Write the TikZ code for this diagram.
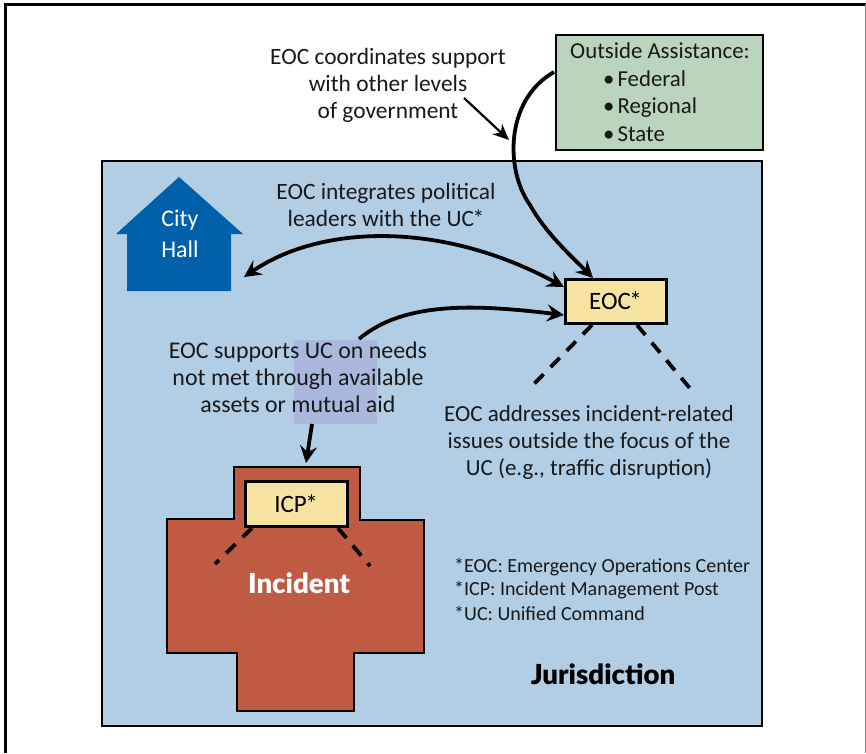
\documentclass[tikz,border=0pt]{standalone}
\usepackage{fontspec}
\setmainfont{Carlito}
\newfontfamily\heavyfont{Lato Black}
\usetikzlibrary{arrows.meta}
\definecolor{jurblue}{HTML}{B2CEE4}
\definecolor{outgreen}{HTML}{BBD4BE}
\definecolor{boxyellow}{HTML}{F7E3A1}
\definecolor{incred}{HTML}{BF5A43}
\definecolor{cityblue}{HTML}{0060A9}
\definecolor{shade}{HTML}{A9B8DC}
\tikzset{
  lbl/.style={align=center,font=\fontsize{23.9}{27}\selectfont,inner sep=0pt,text=black!90},
  lblb/.style={align=center,font=\fontsize{23.4}{27}\selectfont,inner sep=0pt,text=black!90},
  lblc/.style={align=center,font=\fontsize{23}{27}\selectfont,inner sep=0pt,text=black!90},
  listlbl/.style={anchor=base west,font=\fontsize{22.8}{27}\selectfont,inner sep=0pt,text=black!90},
  boxed/.style={draw=black,line width=3pt,fill=boxyellow,font=\fontsize{25}{27}\selectfont,inner sep=0pt},
  panel/.style={draw=black,line width=2.8pt,inner sep=0pt,outer sep=0pt,anchor=north west},
  thick arrow/.style={line width=3.8pt,-{Stealth[length=17pt,width=17pt,inset=6pt]}},
  double arrow/.style={line width=3.8pt,{Stealth[length=17pt,width=17pt,inset=6pt]}-{Stealth[length=17pt,width=17pt,inset=6pt]}},
  thin arrow/.style={line width=2.2pt,-{Stealth[length=16pt,width=14pt,inset=5pt]}},
  dash link/.style={line width=3.8pt,dash pattern=on 13pt off 10pt},
  legend/.style={anchor=west,font=\fontsize{20}{22}\selectfont,inner sep=0pt,text=black!90},
  heavy/.style={font=\fontsize{27.6}{30}\heavyfont,inner sep=0pt}
}
\begin{document}
\begin{tikzpicture}[x=1pt,y=-1pt]
\useasboundingbox (0,0) rectangle (866,753);
\fill[white] (0,0) rectangle (866,753);
% page frame
\draw[line width=3pt] (5,753) -- (5,4) -- (866,4);
\draw[line width=0.8pt,black!50] (865.5,4) -- (865.5,753);
% jurisdiction
\node[panel,fill=jurblue,minimum width=660pt,minimum height=565pt] (jur) at (102,161) {};
% outside assistance
\node[panel,fill=outgreen,minimum width=207pt,minimum height=115pt] (outside) at (556,35) {};
\node[listlbl,anchor=center] (outtitle) at (660,51) {Outside Assistance:};
\node[listlbl] (fed) at (603,86) {\textbullet\kern3pt Federal};
\node[listlbl] (reg) at (603,113) {\textbullet\kern3pt Regional};
\node[listlbl] (sta) at (603,141) {\textbullet\kern3pt State};
% city hall
\path[fill=cityblue] (179,177) -- (243,234) -- (231,234) -- (231,291) -- (127,291) -- (127,234) -- (116,234) -- cycle;
\node[lbl,text=white] (city) at (180,234) {City\\[4pt]Hall};
% incident
\draw[line width=2.8pt,fill=incred] (234,467) -- (360,467) -- (360,520) -- (424,520) -- (424,653) -- (354,653) -- (354,711) -- (237,711) -- (237,653) -- (167,653) -- (167,519) -- (234,519) -- cycle;
\node[heavy,text=white] (inc) at (299,583) {Incident};
% boxes
\node[boxed,minimum width=101pt,minimum height=44pt] (eoc) at (615.5,301) {EOC\kern-1.5pt*};
\node[boxed,minimum width=102pt,minimum height=45pt] (icp) at (296,503.5) {ICP\kern-1.5pt*};
% free ends
\coordinate (cityend) at (244,277);
\coordinate (outstart) at (554,72);
\coordinate (eocin) at (593,278);
\coordinate (supstart) at (359,339);
\coordinate (shadebot) at (312,424);
\coordinate (incidenttop) at (306,463);
\coordinate (noteA) at (464,98);
\coordinate (noteB) at (509,140);
\coordinate (d1) at (530,388);
\coordinate (d2) at (693,392);
\coordinate (d3) at (215,564);
\coordinate (d4) at (370,566);
% curved arrows
\draw[thick arrow] (outstart) .. controls (505,100) and (505,170) .. (530,205) .. controls (545,232) and (570,255) .. (eocin);
\draw[double arrow] (cityend) .. controls (320,225) and (440,220) .. (564,287);
\draw[thick arrow] (supstart) .. controls (405,300) and (480,305) .. (564,315);
% shade and label
\node[fill=shade,minimum width=83pt,minimum height=84pt,inner sep=0pt,outer sep=0pt,anchor=north west] (shadebox) at (294,340) {};
\draw[thick arrow] (shadebot) -- (incidenttop);
\draw[thin arrow] (noteA) -- (noteB);
% dashed links
\draw[dash link] (592,325) -- (d1);
\draw[dash link] (637,325) -- (d2);
\draw[dash link] (252,528) -- (d3);
\draw[dash link] (338,528) -- (d4);
% labels
\node[lblb] (n1) at (388,85) {EOC coordinates support\\with other levels\\of government};
\node[lblb] (n2) at (386,205) {EOC integrates political\\leaders with the UC\kern-1.5pt*};
\node[lbl] (n3) at (298,377) {EOC supports UC on needs\\not met through available\\assets or mutual aid};
\node[lblc] (n4) at (589,442) {EOC addresses incident-related\\issues outside the focus of the\\UC (e.g., traffic disruption)};
\node[legend] (l1) at (454,567) {*EOC: Emergency Operations Center};
\node[legend] (l2) at (454,590) {*ICP: Incident Management Post};
\node[legend] (l3) at (454,613) {*UC: Unified Command};
\node[heavy,text=black] (jn) at (603,674) {Jurisdiction};
\end{tikzpicture}
\end{document}
